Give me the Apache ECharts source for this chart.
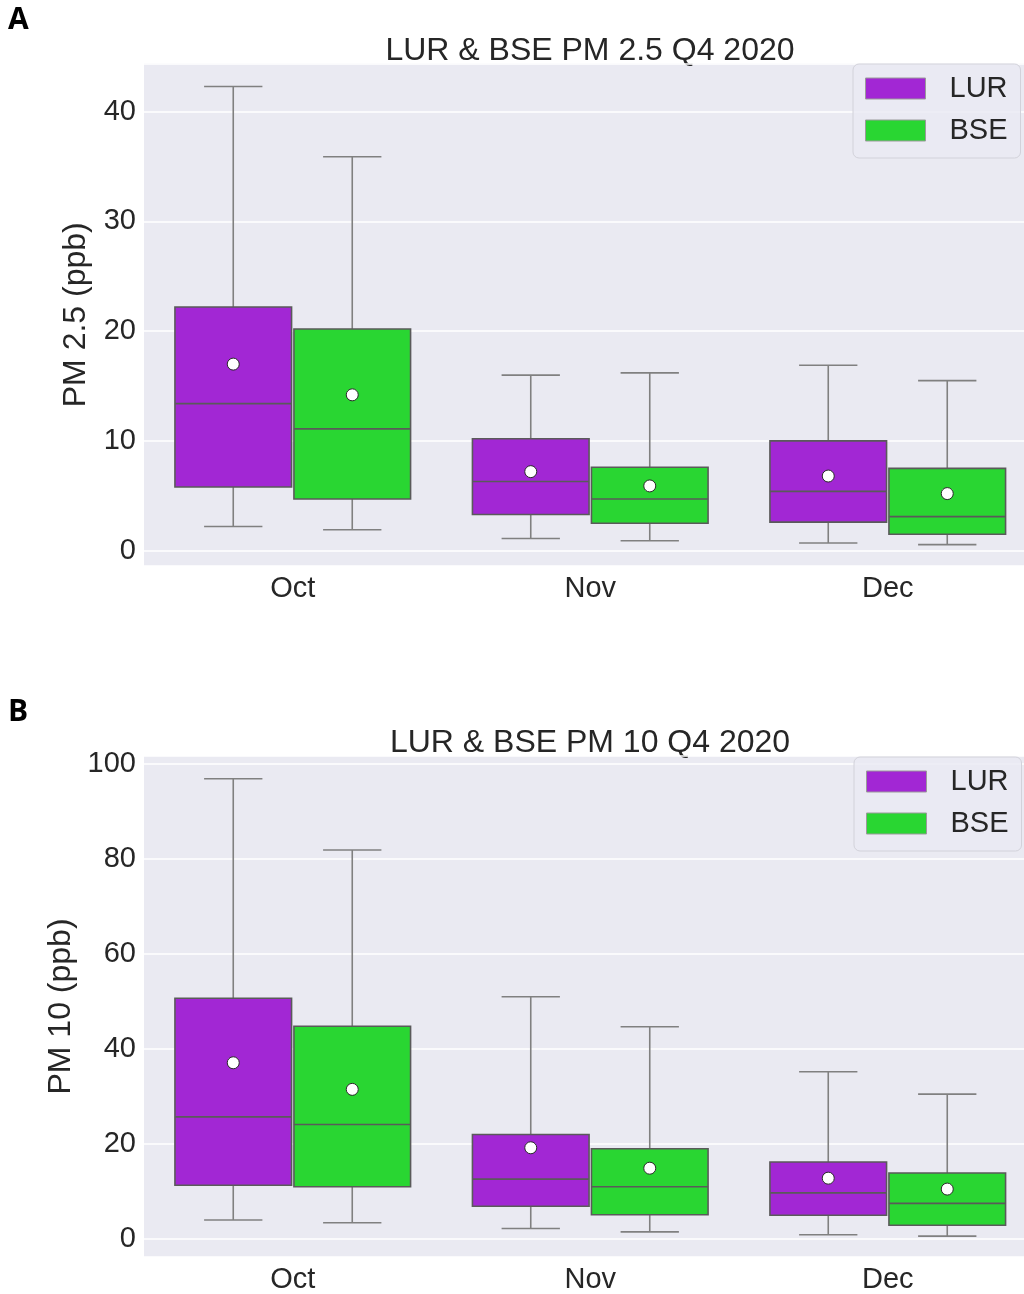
<!DOCTYPE html>
<html>
<head>
<meta charset="utf-8">
<script src="https://cdn.jsdelivr.net/npm/echarts@6/dist/echarts.min.js"></script>
<style>
html,body{margin:0;padding:0;background:#fff;overflow:hidden;width:1024px;height:1294px;}
#chart{width:1040px;height:1294px;}
</style>
</head>
<body>
<div id="chart"></div>
<script>
const months = ['Oct', 'Nov', 'Dec'];
const seriesNames = ['LUR', 'BSE'];
const yTicksA = [0, 10, 20, 30, 40];
const yTicksB = [0, 20, 40, 60, 80, 100];

// PM 2.5 — LUR
const pm25LurLow = [2.2, 1.1, 0.7];
const pm25LurQ1 = [5.8, 3.3, 2.6];
const pm25LurMedian = [13.4, 6.3, 5.4];
const pm25LurQ3 = [22.2, 10.2, 10.0];
const pm25LurHigh = [42.3, 16.0, 16.9];
const pm25LurMean = [17.0, 7.2, 6.8];
// PM 2.5 — BSE
const pm25BseLow = [1.9, 0.9, 0.55];
const pm25BseQ1 = [4.7, 2.5, 1.5];
const pm25BseMedian = [11.1, 4.7, 3.1];
const pm25BseQ3 = [20.2, 7.6, 7.5];
const pm25BseHigh = [35.9, 16.2, 15.5];
const pm25BseMean = [14.2, 5.9, 5.2];

// PM 10 — LUR
const pm10LurLow = [4.0, 2.2, 0.9];
const pm10LurQ1 = [11.3, 6.9, 5.0];
const pm10LurMedian = [25.7, 12.6, 9.7];
const pm10LurQ3 = [50.7, 22.0, 16.2];
const pm10LurHigh = [96.9, 51.0, 35.2];
const pm10LurMean = [37.1, 19.2, 12.8];
// PM 10 — BSE
const pm10BseLow = [3.4, 1.5, 0.6];
const pm10BseQ1 = [11.0, 5.1, 2.9];
const pm10BseMedian = [24.1, 11.0, 7.5];
const pm10BseQ3 = [44.8, 19.0, 13.9];
const pm10BseHigh = [81.9, 44.7, 30.5];
const pm10BseMean = [31.5, 14.9, 10.5];

const COLORS = { LUR: '#A227D4', BSE: '#29D632' };
const TEXT = '#262626';
const FONT = 'Liberation Sans, Arial, sans-serif';

function rows(low, q1, med, q3, high, mean) {
  return months.map((m, i) => [i, low[i], q1[i], med[i], q3[i], high[i], mean[i]]);
}

function makeRender(offsetFrac) {
  return function (params, api) {
    const idx = api.value(0);
    const band = api.size([1, 0])[0];
    const cx = api.coord([idx, 0])[0] + offsetFrac * band;
    const bw = 0.392 * band;
    const cw = 0.196 * band;
    const y = (k) => api.coord([idx, api.value(k)])[1];
    const yL = y(1), yQ1 = y(2), yMed = y(3), yQ3 = y(4), yH = y(5), yMean = y(6);
    const fill = api.visual('color');
    const wStyle = { stroke: '#808080', lineWidth: 1.6 };
    const bStyle = { stroke: '#5a5a5a', lineWidth: 1.6 };
    return {
      type: 'group',
      children: [
        { type: 'line', shape: { x1: cx, y1: yH, x2: cx, y2: yQ3 }, style: wStyle },
        { type: 'line', shape: { x1: cx, y1: yQ1, x2: cx, y2: yL }, style: wStyle },
        { type: 'line', shape: { x1: cx - cw / 2, y1: yH, x2: cx + cw / 2, y2: yH }, style: wStyle },
        { type: 'line', shape: { x1: cx - cw / 2, y1: yL, x2: cx + cw / 2, y2: yL }, style: wStyle },
        { type: 'rect', shape: { x: cx - bw / 2, y: yQ3, width: bw, height: yQ1 - yQ3 }, style: { fill: fill, stroke: '#5a5a5a', lineWidth: 1.6 } },
        { type: 'line', shape: { x1: cx - bw / 2, y1: yMed, x2: cx + bw / 2, y2: yMed }, style: bStyle },
        { type: 'circle', shape: { cx: cx, cy: yMean, r: 6 }, style: { fill: '#ffffff', stroke: '#2a2a2a', lineWidth: 1 } }
      ]
    };
  };
}

function boxSeries(name, gridIdx, offset, data) {
  return {
    type: 'custom',
    name: name,
    xAxisIndex: gridIdx,
    yAxisIndex: gridIdx,
    renderItem: makeRender(offset),
    itemStyle: { color: COLORS[name] },
    encode: { x: 0, y: [1, 2, 3, 4, 5, 6] },
    data: data,
    z: 3
  };
}

function xAxisCfg(gridIdx) {
  return {
    type: 'category', gridIndex: gridIdx, data: months,
    axisLine: { show: false }, axisTick: { show: false }, splitLine: { show: false },
    axisLabel: { fontSize: 29, color: TEXT, margin: 8, fontFamily: FONT }
  };
}

function yAxisCfg(gridIdx, min, max, ticks, name, gap) {
  return {
    type: 'value', gridIndex: gridIdx, min: min, max: max,
    splitNumber: ticks.length,
    axisLine: { show: false }, axisTick: { show: false },
    splitLine: { show: true, lineStyle: { color: '#ffffff', width: 1.5 } },
    axisLabel: {
      fontSize: 29, color: TEXT, margin: 8, fontFamily: FONT,
      padding: [4, 0, 0, 0],
      showMinLabel: false, showMaxLabel: false,
      formatter: function (v) { return ticks.indexOf(v) >= 0 ? String(v) : ''; }
    },
    name: name, nameLocation: 'middle', nameGap: gap,
    nameTextStyle: { fontSize: 32, color: TEXT, fontFamily: FONT }
  };
}

function legendCfg(left, top) {
  return {
    orient: 'vertical', left: left, top: top,
    selectedMode: false,
    data: seriesNames.map(n => ({ name: n, itemStyle: { color: COLORS[n], borderColor: '#9a9a9a', borderWidth: 1 } })),
    icon: 'rect', itemWidth: 60, itemHeight: 21, itemGap: 13,
    padding: [10, 13, 13, 12],
    backgroundColor: 'rgba(234,234,242,0.8)',
    borderColor: '#d2d2da', borderWidth: 1, borderRadius: 6,
    textStyle: { fontSize: 29, color: TEXT, fontFamily: FONT, padding: [0, 0, 0, 19] }
  };
}

const chart = echarts.init(document.getElementById('chart'), null, { renderer: 'canvas', width: 1040, height: 1294 });

const option = {
  backgroundColor: '#ffffff',
  animation: false,
  textStyle: { fontFamily: FONT },
  grid: [
    { left: 144, top: 63.5, width: 892.5, height: 502.5, show: true, backgroundColor: '#EAEAF2', borderWidth: 0 },
    { left: 144, top: 756, width: 892.5, height: 503, show: true, backgroundColor: '#EAEAF2', borderWidth: 0 }
  ],
  xAxis: [xAxisCfg(0), xAxisCfg(1)],
  yAxis: [
    yAxisCfg(0, -1.4, 44.4, yTicksA, 'PM 2.5 (ppb)', 52),
    yAxisCfg(1, -3.8, 101.7, yTicksB, 'PM 10 (ppb)', 67)
  ],
  legend: [legendCfg(853, 64), legendCfg(854, 757)],
  graphic: [
    { type: 'text', x: 8, y: 20, style: { text: 'A', font: 'bold 30px "Open Sans", sans-serif', fill: '#000', verticalAlign: 'middle', align: 'left' } },
    { type: 'text', x: 8, y: 712, style: { text: 'B', font: 'bold 30px "Open Sans", sans-serif', fill: '#000', verticalAlign: 'middle', align: 'left' } },
    { type: 'text', x: 590, y: 51, style: { text: 'LUR & BSE PM 2.5 Q4 2020', font: '32px "Liberation Sans", Arial, sans-serif', fill: TEXT, align: 'center', verticalAlign: 'middle' } },
    { type: 'text', x: 590, y: 743, style: { text: 'LUR & BSE PM 10 Q4 2020', font: '32px "Liberation Sans", Arial, sans-serif', fill: TEXT, align: 'center', verticalAlign: 'middle' } }
  ],
  series: [
    boxSeries('LUR', 0, -0.2, rows(pm25LurLow, pm25LurQ1, pm25LurMedian, pm25LurQ3, pm25LurHigh, pm25LurMean)),
    boxSeries('BSE', 0, 0.2, rows(pm25BseLow, pm25BseQ1, pm25BseMedian, pm25BseQ3, pm25BseHigh, pm25BseMean)),
    boxSeries('LUR', 1, -0.2, rows(pm10LurLow, pm10LurQ1, pm10LurMedian, pm10LurQ3, pm10LurHigh, pm10LurMean)),
    boxSeries('BSE', 1, 0.2, rows(pm10BseLow, pm10BseQ1, pm10BseMedian, pm10BseQ3, pm10BseHigh, pm10BseMean))
  ]
};
chart.setOption(option);
</script>
</body>
</html>
